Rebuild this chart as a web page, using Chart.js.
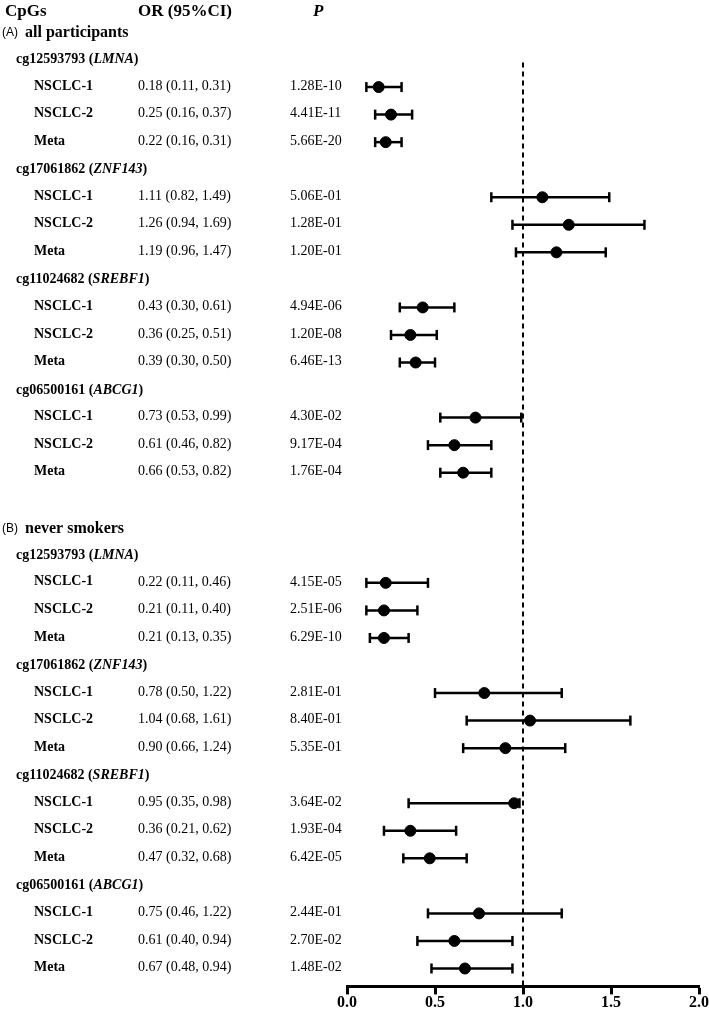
<!DOCTYPE html>
<html>
<head>
<meta charset="utf-8">
<script src="https://cdn.jsdelivr.net/npm/chart.js@4"></script>
<style>
  html, body { margin: 0; padding: 0; background: #fff; }
  #wrap { width: 709px; height: 1012px; }
</style>
</head>
<body>
<div id="wrap"><canvas id="forest" width="709" height="1012"></canvas></div>
<script>
// Forest plot: CpG methylation vs NSCLC risk, OR (95%CI)
const sectionTags = ['(A)', '(B)'];
const sectionNames = ['all participants', 'never smokers'];
const cpgs = ['cg12593793', 'cg17061862', 'cg11024682', 'cg06500161'];
const genes = ['LMNA', 'ZNF143', 'SREBF1', 'ABCG1'];
const cohorts = ['NSCLC-1', 'NSCLC-2', 'Meta'];
const xTicks = [0, 0.5, 1, 1.5, 2];

// all participants (4 CpGs x 3 cohorts)
const orAll = [0.18, 0.25, 0.22, 1.11, 1.26, 1.19, 0.43, 0.36, 0.39, 0.73, 0.61, 0.66];
const loAll = [0.11, 0.16, 0.16, 0.82, 0.94, 0.96, 0.30, 0.25, 0.30, 0.53, 0.46, 0.53];
const hiAll = [0.31, 0.37, 0.31, 1.49, 1.69, 1.47, 0.61, 0.51, 0.50, 0.99, 0.82, 0.82];
const pAll = ['1.28E-10', '4.41E-11', '5.66E-20', '5.06E-01', '1.28E-01', '1.20E-01',
  '4.94E-06', '1.20E-08', '6.46E-13', '4.30E-02', '9.17E-04', '1.76E-04'];

// never smokers
const orNever = [0.22, 0.21, 0.21, 0.78, 1.04, 0.90, 0.95, 0.36, 0.47, 0.75, 0.61, 0.67];
const loNever = [0.11, 0.11, 0.13, 0.50, 0.68, 0.66, 0.35, 0.21, 0.32, 0.46, 0.40, 0.48];
const hiNever = [0.46, 0.40, 0.35, 1.22, 1.61, 1.24, 0.98, 0.62, 0.68, 1.22, 0.94, 0.94];
const pNever = ['4.15E-05', '2.51E-06', '6.29E-10', '2.81E-01', '8.40E-01', '5.35E-01',
  '3.64E-02', '1.93E-04', '6.42E-05', '2.44E-01', '2.70E-02', '1.48E-02'];

const SERIF = '"Liberation Serif", "Times New Roman", serif';
const SANS = '"Liberation Sans", Arial, sans-serif';

// each section: header line, then per CpG a title line + 3 cohort lines, then one blank line
const SECTION_SLOTS = 1 + cpgs.length * 4 + 1;
const sectionData = [
  { or: orAll, lo: loAll, hi: hiAll, p: pAll },
  { or: orNever, lo: loNever, hi: hiNever, p: pNever }
];

const rows = [];
sectionData.forEach((sec, s) => {
  cpgs.forEach((c, g) => {
    cohorts.forEach((name, k) => {
      const i = g * 3 + k;
      rows.push({
        slot: s * SECTION_SLOTS + 1 + g * 4 + 1 + k,
        name, or: sec.or[i], lo: sec.lo[i], hi: sec.hi[i], p: sec.p[i]
      });
    });
  });
});

const lastSlot = rows[rows.length - 1].slot;

const ciSets = rows.map(r => ({
  type: 'line',
  data: [{ x: r.lo, y: r.slot }, { x: r.hi, y: r.slot }],
  borderColor: '#000',
  borderWidth: 2.5,
  pointStyle: 'line',
  pointRotation: 90,
  pointRadius: 5,
  pointBorderWidth: 2.5,
  pointBorderColor: '#000',
  showLine: true,
  clip: false
}));

const tablePlugin = {
  id: 'table',
  afterDraw(chart) {
    const { ctx } = chart;
    const y = chart.scales.y;
    ctx.save();
    ctx.fillStyle = '#000';
    ctx.textBaseline = 'middle';
    ctx.textAlign = 'left';

    // column headers
    ctx.font = `bold 17px ${SERIF}`;
    ctx.fillText('CpGs', 5, 12);
    ctx.fillText('OR (95%CI)', 138, 12);
    ctx.font = `italic bold 17px ${SERIF}`;
    ctx.fillText('P', 313, 12);

    sectionNames.forEach((name, s) => {
      const base = s * SECTION_SLOTS;
      const sy = y.getPixelForValue(base) + 1;
      ctx.font = `12px ${SANS}`;
      ctx.fillText(sectionTags[s], 2, sy);
      ctx.font = `bold 16px ${SERIF}`;
      ctx.fillText(name, 25, sy);

      cpgs.forEach((c, g) => {
        const gy = y.getPixelForValue(base + 1 + g * 4);
        let x = 16;
        ctx.font = `bold 14px ${SERIF}`;
        ctx.fillText(c + ' (', x, gy);
        x += ctx.measureText(c + ' (').width;
        ctx.font = `italic bold 14px ${SERIF}`;
        ctx.fillText(genes[g], x, gy);
        x += ctx.measureText(genes[g]).width;
        ctx.font = `bold 14px ${SERIF}`;
        ctx.fillText(')', x, gy);
      });
    });

    rows.forEach(r => {
      const ry = y.getPixelForValue(r.slot) - 1;
      ctx.font = `bold 14px ${SERIF}`;
      ctx.fillText(r.name, 34, ry);
      ctx.font = `14px ${SERIF}`;
      ctx.fillText(`${r.or.toFixed(2)} (${r.lo.toFixed(2)}, ${r.hi.toFixed(2)})`, 138, ry);
      ctx.fillText(r.p, 290, ry);
    });
    ctx.restore();
  }
};

new Chart(document.getElementById('forest'), {
  type: 'scatter',
  data: {
    datasets: [
      {
        type: 'line',
        data: [{ x: 1, y: -10 }, { x: 1, y: lastSlot + 10 }],
        borderColor: '#000',
        borderWidth: 2,
        borderDash: [5, 4],
        pointRadius: 0
      },
      ...ciSets,
      {
        type: 'scatter',
        data: rows.map(r => ({ x: r.or, y: r.slot })),
        backgroundColor: '#000',
        borderColor: '#000',
        pointRadius: 5.5,
        clip: false
      }
    ]
  },
  options: {
    responsive: false,
    animation: false,
    events: [],
    layout: { padding: { left: 347, right: 10, top: 62, bottom: 0 } },
    plugins: { legend: { display: false }, tooltip: { enabled: false } },
    scales: {
      x: {
        type: 'linear',
        min: 0,
        max: 2,
        afterBuildTicks: axis => { axis.ticks = xTicks.map(v => ({ value: v })); },
        border: { display: true, color: '#000', width: 3 },
        grid: { drawOnChartArea: false, drawTicks: true, color: '#000', tickColor: '#000', tickLength: 8, tickWidth: 3 },
        ticks: {
          color: '#000',
          padding: 0,
          font: { family: SERIF, weight: 'bold', size: 16, lineHeight: 1.1 },
          callback: v => Number(v).toFixed(1)
        }
      },
      y: {
        type: 'linear',
        display: false,
        reverse: true,
        min: 1.09,
        max: 34.65
      }
    }
  },
  plugins: [tablePlugin]
});
</script>
</body>
</html>
